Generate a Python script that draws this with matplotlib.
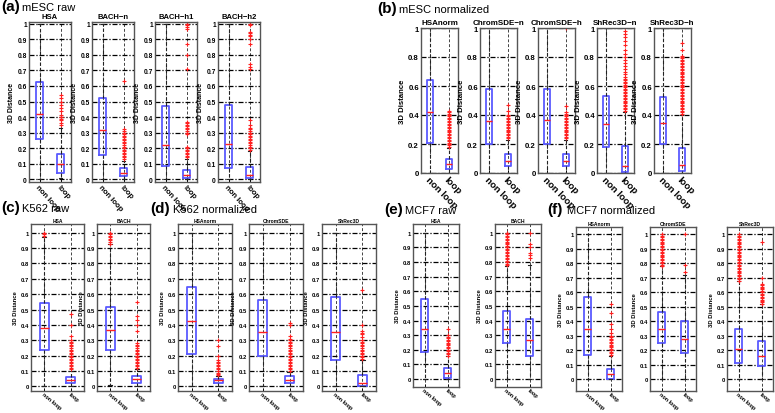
import matplotlib
matplotlib.use('Agg')
import matplotlib.pyplot as plt

plt.rcParams['font.family'] = ['Liberation Sans', 'DejaVu Sans']

W, H = 775, 414

groups = ['non loop', 'loop']

# ---------------- (a) mESC raw ----------------
a_titles = ['HSA', 'BACH\u2212n', 'BACH\u2212h1', 'BACH\u2212h2']
a_q1 = [[0.26, 0.04], [0.155, 0.02], [0.085, 0.005], [0.07, 0.005]]
a_med = [[0.42, 0.10], [0.315, 0.04], [0.22, 0.025], [0.225, 0.03]]
a_q3 = [[0.625, 0.165], [0.52, 0.07], [0.47, 0.06], [0.475, 0.08]]
a_wlo = [[0.0, 0.01], [0.0, 0.0], [0.0, 0.0], [0.0, 0.0]]
a_whi = [[1.0, 0.33], [1.0, 0.12], [1.0, 0.13], [1.0, 0.18]]
a_out = [
    [[], [0.35, 0.36, 0.38, 0.39, 0.40, 0.40, 0.41, 0.44, 0.46, 0.48, 0.50, 0.52, 0.54]],
    [[], [0.13, 0.14, 0.15, 0.16, 0.17, 0.18, 0.19, 0.20, 0.21, 0.22, 0.23, 0.24, 0.25,
          0.26, 0.27, 0.28, 0.29, 0.30, 0.31, 0.32, 0.63]],
    [[], [0.14, 0.15, 0.16, 0.17, 0.18, 0.19, 0.20, 0.21, 0.29, 0.30, 0.31, 0.32, 0.33,
          0.34, 0.35, 0.36, 0.37, 0.71, 0.80, 0.87, 0.97, 0.98, 0.99, 1.0]],
    [[], [0.19, 0.20, 0.21, 0.22, 0.23, 0.24, 0.25, 0.26, 0.27, 0.28, 0.29, 0.30, 0.31,
          0.32, 0.33, 0.35, 0.38, 0.71, 0.72, 0.74, 0.87, 0.90, 0.92, 0.93, 0.94, 0.95,
          0.99, 1.0]],
]

# ---------------- (b) mESC normalized ----------------
b_titles = ['HSAnorm', 'ChromSDE\u2212n', 'ChromSDE\u2212h', 'ShRec3D\u2212n', 'ShRec3D\u2212h']
b_q1 = [[0.21, 0.03], [0.20, 0.045], [0.20, 0.045], [0.18, 0.01], [0.20, 0.015]]
b_med = [[0.42, 0.06], [0.36, 0.085], [0.365, 0.085], [0.335, 0.05], [0.345, 0.055]]
b_q3 = [[0.64, 0.095], [0.58, 0.13], [0.58, 0.13], [0.53, 0.185], [0.525, 0.175]]
b_wlo = [[0.0, 0.0], [0.0, 0.0], [0.0, 0.0], [0.0, 0.0], [0.0, 0.0]]
b_whi = [[1.0, 0.17], [1.0, 0.23], [1.0, 0.23], [1.0, 0.42], [1.0, 0.40]]
b_out = [
    [[], [0.18, 0.19, 0.20, 0.21, 0.22, 0.23, 0.24, 0.25, 0.26, 0.27, 0.28, 0.29, 0.30,
          0.31, 0.32, 0.33, 0.34, 0.35, 0.36, 0.37, 0.38, 0.39, 0.40, 0.41, 0.42, 0.43]],
    [[], [0.24, 0.25, 0.26, 0.27, 0.28, 0.29, 0.30, 0.31, 0.32, 0.33, 0.34, 0.35, 0.36,
          0.37, 0.38, 0.39, 0.40, 0.43, 0.47]],
    [[], [0.24, 0.25, 0.26, 0.27, 0.28, 0.29, 0.30, 0.31, 0.32, 0.33, 0.34, 0.35, 0.36,
          0.37, 0.38, 0.39, 0.40, 0.41, 0.42, 0.46, 1.0]],
    [[], [0.43, 0.44, 0.45, 0.46, 0.47, 0.48, 0.49, 0.50, 0.51, 0.52, 0.53, 0.54, 0.55,
          0.56, 0.57, 0.58, 0.59, 0.60, 0.61, 0.62, 0.63, 0.64, 0.65, 0.66, 0.68, 0.70,
          0.72, 0.74, 0.76, 0.78, 0.80, 0.82, 0.85, 0.88, 0.91, 0.94, 0.96, 0.98]],
    [[], [0.41, 0.42, 0.43, 0.44, 0.45, 0.46, 0.47, 0.48, 0.49, 0.50, 0.51, 0.52, 0.53,
          0.54, 0.55, 0.56, 0.57, 0.58, 0.59, 0.60, 0.61, 0.62, 0.63, 0.64, 0.65, 0.66,
          0.67, 0.68, 0.69, 0.70, 0.71, 0.72, 0.73, 0.74, 0.75, 0.76, 0.77, 0.78, 0.79,
          0.80, 0.81, 0.85, 0.90]],
]

# ---------------- (c) K562 raw ----------------
c_titles = ['HSA', 'BACH']
c_q1 = [[0.24, 0.02], [0.235, 0.025]]
c_med = [[0.38, 0.04], [0.365, 0.045]]
c_q3 = [[0.54, 0.06], [0.515, 0.065]]
c_wlo = [[0.0, 0.0], [0.01, 0.0]]
c_whi = [[0.97, 0.10], [0.925, 0.115]]
c_out = [
    [[0.98, 0.99, 1.0], [0.11, 0.12, 0.13, 0.14, 0.15, 0.16, 0.17, 0.18, 0.19, 0.20, 0.21,
                         0.22, 0.23, 0.24, 0.25, 0.26, 0.27, 0.28, 0.29, 0.30, 0.33, 0.40, 0.47]],
    [[0.93, 0.94, 0.95, 0.96, 0.97, 0.98, 0.99, 1.0],
     [0.12, 0.13, 0.14, 0.15, 0.16, 0.17, 0.18, 0.19, 0.20, 0.21, 0.22, 0.23, 0.24, 0.25,
      0.26, 0.27, 0.28, 0.36, 0.40, 0.43, 0.46, 0.55]],
]

# ---------------- (d) K562 normalized ----------------
d_titles = ['HSAnorm', 'ChromSDE', 'ShRec3D']
d_q1 = [[0.21, 0.025], [0.20, 0.025], [0.175, 0.005]]
d_med = [[0.425, 0.04], [0.355, 0.04], [0.355, 0.02]]
d_q3 = [[0.65, 0.05], [0.565, 0.065], [0.58, 0.075]]
d_wlo = [[0.0, 0.0], [0.0, 0.0], [0.0, 0.0]]
d_whi = [[1.0, 0.07], [1.0, 0.095], [1.0, 0.175]]
d_out = [
    [[], [0.075, 0.08, 0.09, 0.10, 0.11, 0.12, 0.13, 0.14, 0.15, 0.16, 0.17, 0.20, 0.26, 0.30]],
    [[], [0.10, 0.11, 0.12, 0.13, 0.14, 0.15, 0.16, 0.17, 0.18, 0.19, 0.20, 0.21, 0.22,
          0.23, 0.24, 0.25, 0.26, 0.27, 0.28, 0.29, 0.30, 0.31, 0.33, 0.40, 0.41]],
    [[], [0.18, 0.19, 0.20, 0.21, 0.22, 0.23, 0.24, 0.25, 0.26, 0.27, 0.28, 0.29, 0.30,
          0.32, 0.34, 0.35, 0.36, 0.40, 0.63]],
]

# ---------------- (e) MCF7 raw ----------------
e_titles = ['HSA', 'BACH']
e_q1 = [[0.185, 0.01], [0.245, 0.155]]
e_med = [[0.34, 0.04], [0.345, 0.265]]
e_q3 = [[0.545, 0.075], [0.465, 0.41]]
e_wlo = [[0.0, 0.0], [0.0, 0.0]]
e_whi = [[1.0, 0.155], [0.775, 0.78]]
e_out = [
    [[], [0.16, 0.17, 0.18, 0.19, 0.20, 0.21, 0.22, 0.23, 0.24, 0.25, 0.26, 0.27, 0.28,
          0.29, 0.30, 0.34]],
    [[0.78, 0.79, 0.80, 0.81, 0.82, 0.83, 0.84, 0.85, 0.86, 0.87, 0.88, 0.89, 0.90, 0.91,
      0.92, 0.93, 0.94, 0.95, 0.96, 0.97, 0.98, 0.99, 1.0],
     [0.83, 0.85, 0.86, 0.90, 0.92, 1.0]],
]

# ---------------- (f) MCF7 normalized ----------------
f_titles = ['HSAnorm', 'ChromSDE', 'ShRec3D']
f_q1 = [[0.17, 0.005], [0.25, 0.185], [0.115, 0.09]]
f_med = [[0.345, 0.035], [0.35, 0.28], [0.21, 0.16]]
f_q3 = [[0.565, 0.075], [0.465, 0.40], [0.345, 0.265]]
f_wlo = [[0.0, 0.0], [0.0, 0.0], [0.0, 0.0]]
f_whi = [[1.0, 0.16], [0.78, 0.72], [0.68, 0.52]]
f_out = [
    [[], [0.17, 0.18, 0.19, 0.20, 0.21, 0.22, 0.23, 0.24, 0.25, 0.26, 0.27, 0.28, 0.29,
          0.30, 0.32, 0.35, 0.38, 0.46, 0.52]],
    [[0.78, 0.79, 0.80, 0.81, 0.82, 0.83, 0.84, 0.85, 0.86, 0.87, 0.88, 0.89, 0.90, 0.91,
      0.92, 0.93, 0.94, 0.95, 0.96, 0.97, 0.98, 0.99, 1.0],
     [0.74, 0.79, 1.0]],
    [[0.68, 0.69, 0.70, 0.71, 0.72, 0.73, 0.74, 0.75, 0.76, 0.77, 0.78, 0.79, 0.80, 0.81,
      0.82, 0.83, 0.84, 0.85, 0.86, 0.87, 0.88, 0.89, 0.90, 0.91, 0.92, 0.93, 0.94, 0.95,
      0.96, 0.97, 0.98, 0.99, 1.0],
     [0.52, 0.53, 0.54, 0.55, 0.56, 0.57, 0.58, 0.59, 0.60, 0.61, 0.62, 0.63, 0.64, 0.65,
      0.66, 0.70, 0.95]],
]

fig = plt.figure(figsize=(W / 100, H / 100), dpi=100)

BOX = '#5a5aff'
RED = '#ff2020'


def draw_panel(lefts, width, top, bottom, ylim, yticks, yticklabels, fs,
               titles, q1, med, q3, wlo, whi, out):
    tfs, kfs, xfs, lfs, tpad, xpad, rot = fs
    for i, title in enumerate(titles):
        l = lefts[i]
        ax = fig.add_axes([l / W, 1 - bottom / H, width / W, (bottom - top) / H])
        stats = []
        for j in range(2):
            stats.append(dict(med=med[i][j], q1=q1[i][j], q3=q3[i][j],
                              whislo=wlo[i][j], whishi=whi[i][j],
                              fliers=out[i][j], label=groups[j]))
        ax.bxp(stats, positions=[1, 2], widths=0.33, showcaps=True,
               boxprops=dict(color=BOX, linewidth=1.3),
               medianprops=dict(color=RED, linewidth=1.0),
               whiskerprops=dict(color='#222222', linewidth=0.8, linestyle=(0, (3, 2))),
               capprops=dict(color='#222222', linewidth=0.8),
               flierprops=dict(marker='+', markeredgecolor=RED, markersize=3.5,
                               markeredgewidth=0.8, linestyle='none'))
        ax.set_xlim(0.5, 2.5)
        ax.set_ylim(*ylim)
        ax.set_yticks(yticks)
        ax.set_yticklabels(yticklabels, fontsize=kfs, fontweight='bold')
        ax.set_xticks([1, 2])
        ax.set_xticklabels(groups, rotation=rot, ha='left', va='top',
                           rotation_mode='anchor', fontsize=xfs, fontweight='bold')
        ax.yaxis.grid(True, color='black', linestyle=(0, (4, 1.5, 1, 1.5)), linewidth=0.9)
        ax.xaxis.grid(True, color='#444444', linestyle=(0, (3, 2)), linewidth=0.7)
        ax.set_axisbelow(True)
        ax.tick_params(axis='y', direction='in', length=2, width=0.6, pad=1.5)
        ax.tick_params(axis='x', direction='in', length=2, width=0.6, pad=xpad)
        for s in ax.spines.values():
            s.set_color('#555555')
            s.set_linewidth(1.0)
        ax.set_title(title, fontsize=tfs, fontweight='bold', pad=tpad)
        ax.set_ylabel('3D Distance', fontsize=lfs, fontweight='bold', labelpad=1.5)


ticks10 = [0, 0.1, 0.2, 0.3, 0.4, 0.5, 0.6, 0.7, 0.8, 0.9, 1.0]
labels10 = ['0', '0.1', '0.2', '0.3', '0.4', '0.5', '0.6', '0.7', '0.8', '0.9', '1']
ticks5 = [0, 0.2, 0.4, 0.6, 0.8, 1.0]
labels5 = ['0', '0.2', '0.4', '0.6', '0.8', '1']

small = (3.6, 4.2, 4.0, 4.2, 1.5, 0.3, -40)
draw_panel([29, 92, 155, 218], 42, 23, 182.5, (-0.015, 1.012), ticks10, labels10,
           (5.5, 4.8, 5.5, 5.0, 3, 1.5, -48), a_titles, a_q1, a_med, a_q3, a_wlo, a_whi, a_out)
draw_panel([421, 480, 538, 597, 654], 37, 29, 174, (0, 1.0), ticks5, labels5,
           (5.8, 5.6, 6.8, 5.6, 3, 1.5, -45), b_titles, b_q1, b_med, b_q3, b_wlo, b_whi, b_out)
draw_panel([31, 97], 53, 225, 392, (-0.03, 1.057), ticks10, labels10,
           small, c_titles, c_q1, c_med, c_q3, c_wlo, c_whi, c_out)
draw_panel([178, 249, 322], 54, 225, 392, (-0.03, 1.057), ticks10, labels10,
           small, d_titles, d_q1, d_med, d_q3, d_wlo, d_whi, d_out)
draw_panel([413, 495], 46, 225, 388, (-0.054, 1.06), ticks10, labels10,
           small, e_titles, e_q1, e_med, e_q3, e_wlo, e_whi, e_out)
draw_panel([576, 650, 727], 46, 228, 392, (-0.08, 1.05), ticks10, labels10,
           small, f_titles, f_q1, f_med, f_q3, f_wlo, f_whi, f_out)


# panel labels
def plabel(x, y, tag, name, dx):
    fig.text(x / W, 1 - y / H, tag, fontsize=11, fontweight='bold', va='top', ha='left')
    fig.text((x + dx) / W, 1 - (y + 3) / H, name, fontsize=8, va='top', ha='left')


plabel(1, 0, '(a)', 'mESC raw', 21)
plabel(377, 2, '(b)', 'mESC normalized', 22)
plabel(1, 201, '(c)', 'K562 raw', 21)
plabel(150, 202, '(d)', 'K562 normalized', 23)
plabel(384, 203, '(e)', 'MCF7 raw', 21)
plabel(547, 203, '(f)', 'MCF7 normalized', 20)

fig.savefig('out.png', dpi=100)
